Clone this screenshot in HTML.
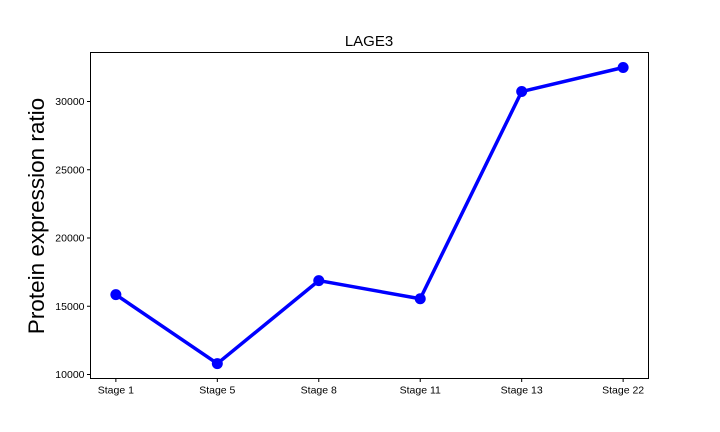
<!DOCTYPE html>
<html><head><meta charset="utf-8"><style>
html,body{margin:0;padding:0;background:#fff;}
svg{display:block;font-family:"Liberation Sans","DejaVu Sans",sans-serif;}
</style></head><body>
<svg id="chart" width="720" height="432" xmlns="http://www.w3.org/2000/svg">
<rect width="720" height="432" fill="#fff"/>
<text x="369" y="46" font-size="15" text-anchor="middle">LAGE3</text>
<text transform="translate(44,216) rotate(-90)" font-size="22.5" text-anchor="middle">Protein expression ratio</text>
<g id="ticks"></g>
<g id="series"></g>
<rect x="90.5" y="52.5" width="558" height="326" fill="none" stroke="#000" stroke-width="1"/>
</svg>
<script>
const categories = ["Stage 1","Stage 5","Stage 8","Stage 11","Stage 13","Stage 22"];
const values = [15850, 10800, 16880, 15550, 30730, 32490];
const yTicks = [10000, 15000, 20000, 25000, 30000];
const yTickLabels = ["10000","15000","20000","25000","30000"];
const L=90.5,R=648.5,T=52.5,B=378.5,Y0=9707,Y1=33590;
const NS="http://www.w3.org/2000/svg";
function x(i){return L+(i+0.25)/(categories.length-0.5)*(R-L);}
function y(v){return B-(v-Y0)/(Y1-Y0)*(B-T);}
function mk(t,a,p){const e=document.createElementNS(NS,t);for(const k in a)e.setAttribute(k,a[k]);p.appendChild(e);return e;}
const tg=document.getElementById('ticks'), sg=document.getElementById('series');
yTicks.forEach((v,i)=>{
  const ln=mk('line',{x1:L-3.5,x2:L,y1:y(v),y2:y(v),stroke:'#000'},tg);
  
  
  const t=mk('text',{x:L-6,y:y(v)+3.5,'font-size':10.5,'text-anchor':'end'},tg);
  t.textContent=yTickLabels[i];
  
  
});
categories.forEach((c,i)=>{
  const ln=mk('line',{x1:x(i),x2:x(i),y1:B,y2:B+3.5,stroke:'#000'},tg);
  
  
  const t=mk('text',{x:x(i),y:B+15,'font-size':10.5,'text-anchor':'middle'},tg);
  t.textContent=c;
  
  
});
const pl=mk('polyline',{points:values.map((v,i)=>x(i)+','+y(v)).join(' '),fill:'none',stroke:'#0000ff','stroke-width':3.5,'stroke-linejoin':'round'},sg);


values.forEach((v,i)=>{
  const c=mk('circle',{cx:x(i),cy:y(v),r:5.5,fill:'#0000ff'},sg);
  
  
});
</script>
</body></html>
